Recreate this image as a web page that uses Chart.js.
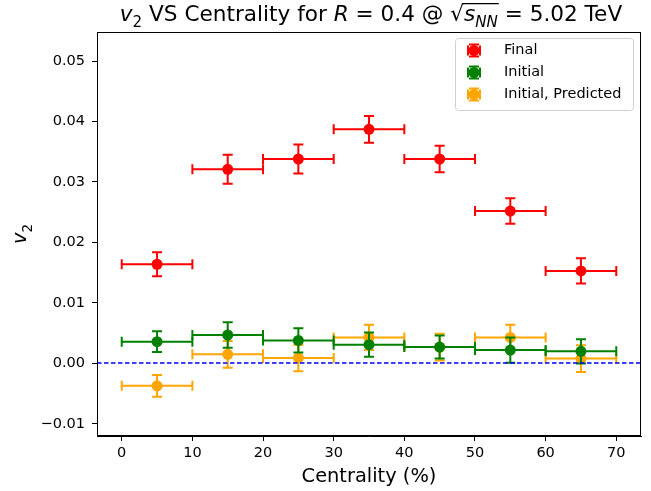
<!DOCTYPE html>
<html>
<head>
<meta charset="utf-8">
<script src="https://cdn.jsdelivr.net/npm/chart.js@4"></script>
<style>
  html, body { margin: 0; padding: 0; background: #fff; }
  canvas { display: block; }
</style>
</head>
<body>
<canvas id="v2chart" width="651" height="491"></canvas>
<script>
// centrality bins (bin centre, half width in %)
const centrality = [5, 15, 25, 35, 45, 55, 65];
const binHalfWidth = [5, 5, 5, 5, 5, 5, 5];

const finalV2 = [0.0164, 0.0321, 0.0338, 0.0387, 0.0338, 0.0252, 0.0153];
const finalErr = [0.0020, 0.0024, 0.0024, 0.0022, 0.0022, 0.0021, 0.0021];
const initialV2 = [0.0036, 0.0047, 0.0038, 0.0031, 0.0027, 0.0022, 0.0020];
const initialErr = [0.0017, 0.0021, 0.0020, 0.0020, 0.0019, 0.0021, 0.0020];
const predictedV2 = [-0.0037, 0.0015, 0.0009, 0.0043, 0.0027, 0.0043, 0.0008];
const predictedErr = [0.0018, 0.0022, 0.0022, 0.0021, 0.0022, 0.0021, 0.0022];

const seriesNames = ['Final', 'Initial', 'Initial, Predicted'];
const seriesColors = ['#ff0000', '#008000', '#ffa500'];

const xTicks = [0, 10, 20, 30, 40, 50, 60, 70];
const yTicks = [-0.01, 0, 0.01, 0.02, 0.03, 0.04, 0.05];

const FONT = 'DejaVu Sans';

function makeSet(i, vals, errs){
     return {
          label: seriesNames[i],
          data: centrality.map((c, k) => ({x: c, y: vals[k], xe: binHalfWidth[k], ye: errs[k]})),
          backgroundColor: seriesColors[i],
          borderColor: seriesColors[i],
          borderWidth: 0,
          pointRadius: 5.5,
          pointHoverRadius: 5.5,
          showLine: false
     };
}

// error bars, drawn under each dataset's markers
const errorBarPlugin = {
     id: 'errorBars',
     beforeDatasetDraw(chart, args){
          const ds = chart.data.datasets[args.index];
          const xs = chart.scales.x, ys = chart.scales.y;
          const ctx = chart.ctx;
          const cap = 5;
          ctx.save();
          ctx.strokeStyle = ds.borderColor;
          ctx.lineWidth = 2;
          ds.data.forEach(p => {
               const px = xs.getPixelForValue(p.x);
               const py = ys.getPixelForValue(p.y);
               const x0 = xs.getPixelForValue(p.x - p.xe), x1 = xs.getPixelForValue(p.x + p.xe);
               const y0 = ys.getPixelForValue(p.y - p.ye), y1 = ys.getPixelForValue(p.y + p.ye);
               ctx.beginPath();
               ctx.moveTo(x0, py); ctx.lineTo(x1, py);
               ctx.moveTo(x0, py - cap); ctx.lineTo(x0, py + cap);
               ctx.moveTo(x1, py - cap); ctx.lineTo(x1, py + cap);
               ctx.moveTo(px, y0); ctx.lineTo(px, y1);
               ctx.moveTo(px - cap, y0); ctx.lineTo(px + cap, y0);
               ctx.moveTo(px - cap, y1); ctx.lineTo(px + cap, y1);
               ctx.stroke();
          });
          ctx.restore();
     }
};

function drawRich(ctx, parts, cx, baseY, size){
     // measure
     let total = 0;
     parts.forEach(p => {
          const fs = p.sub ? size * 0.7 : size;
          ctx.font = (p.it ? 'italic ' : '') + fs + 'px "' + FONT + '"';
          p.w = p.rad ? ctx.measureText('\u221A').width : ctx.measureText(p.t).width;
          total += p.w;
     });
     let x = cx - total / 2;
     let radTop = null, radStart = 0;
     parts.forEach(p => {
          const fs = p.sub ? size * 0.7 : size;
          ctx.font = (p.it ? 'italic ' : '') + fs + 'px "' + FONT + '"';
          const y = baseY + (p.sub ? size * 0.3 : 0);
          if(p.rad){
               const m = ctx.measureText('\u221A');
               ctx.fillText('\u221A', x, baseY);
               radTop = baseY - m.actualBoundingBoxAscent + 0.6;
               radStart = x + p.w * 0.85;
          } else {
               ctx.fillText(p.t, x, y);
          }
          x += p.w;
          if(p.endRad && radTop !== null){
               ctx.save();
               ctx.lineWidth = 1.2;
               ctx.beginPath();
               ctx.moveTo(radStart, radTop);
               ctx.lineTo(x + 1, radTop);
               ctx.stroke();
               ctx.restore();
               radTop = null;
          }
     });
}

const decorPlugin = {
     id: 'decor',
     afterDatasetsDraw(chart){
          const ctx = chart.ctx;
          const a = chart.chartArea;
          const ys = chart.scales.y;
          // dashed zero line
          const y0 = Math.round(ys.getPixelForValue(0));
          ctx.save();
          ctx.strokeStyle = '#0000ff';
          ctx.lineWidth = 1.4;
          ctx.setLineDash([4.5, 2.5]);
          ctx.beginPath();
          ctx.moveTo(a.left, y0); ctx.lineTo(a.right, y0);
          ctx.stroke();
          ctx.restore();
     },
     afterDraw(chart){
          const ctx = chart.ctx;
          const a = chart.chartArea;
          ctx.save();
          // frame
          ctx.strokeStyle = '#000';
          ctx.lineWidth = 1;
          ctx.strokeRect(a.left + 0.5, a.top + 0.5, a.right - a.left - 1, a.bottom - a.top - 1);

          // legend
          const lx = 455, ly = 38, lw = 178, lh = 72;
          ctx.fillStyle = 'rgba(255,255,255,0.8)';
          ctx.strokeStyle = '#d0d0d0';
          ctx.beginPath();
          ctx.roundRect(lx + 0.5, ly + 0.5, lw, lh, 3);
          ctx.fill();
          ctx.stroke();
          chart.data.datasets.forEach((ds, i) => {
               const cy = 50.5 + i * 22;
               const cx = 474;
               ctx.strokeStyle = ds.borderColor;
               ctx.fillStyle = ds.borderColor;
               ctx.lineWidth = 2;
               ctx.beginPath();
               ctx.moveTo(cx - 6, cy); ctx.lineTo(cx + 6, cy);
               ctx.moveTo(cx - 6, cy - 5); ctx.lineTo(cx - 6, cy + 5);
               ctx.moveTo(cx + 6, cy - 5); ctx.lineTo(cx + 6, cy + 5);
               ctx.moveTo(cx, cy - 6); ctx.lineTo(cx, cy + 6);
               ctx.moveTo(cx - 5, cy - 6); ctx.lineTo(cx + 5, cy - 6);
               ctx.moveTo(cx - 5, cy + 6); ctx.lineTo(cx + 5, cy + 6);
               ctx.stroke();
               ctx.beginPath();
               ctx.arc(cx, cy, 5.5, 0, Math.PI * 2);
               ctx.fill();
               ctx.fillStyle = '#000';
               ctx.font = '14.5px "' + FONT + '"';
               ctx.textBaseline = 'middle';
               ctx.textAlign = 'left';
               ctx.fillText(ds.label, 504, cy);
          });

          // title
          ctx.fillStyle = '#000';
          ctx.strokeStyle = '#000';
          ctx.textBaseline = 'alphabetic';
          ctx.textAlign = 'left';
          const midX = (a.left + a.right) / 2;
          drawRich(ctx, [
               {t: 'v', it: true}, {t: '2', sub: true},
               {t: ' VS Centrality for '},
               {t: 'R', it: true}, {t: ' = 0.4 @ '},
               {rad: true}, {t: 's', it: true}, {t: 'NN', it: true, sub: true, endRad: true},
               {t: ' = 5.02 TeV'}
          ], midX + 2, 21, 21.6);

          // x axis title
          ctx.font = '19.4px "' + FONT + '"';
          ctx.textAlign = 'center';
          ctx.fillText('Centrality (%)', midX, 482);

          // y axis title
          ctx.translate(26, (a.top + a.bottom) / 2);
          ctx.rotate(-Math.PI / 2);
          ctx.textAlign = 'left';
          drawRich(ctx, [{t: 'v', it: true}, {t: '2', sub: true}], 0, 0, 19.4);
          ctx.restore();
     }
};

Chart.defaults.font.family = FONT;
Chart.defaults.font.size = 14;
Chart.defaults.color = '#000';

const ctx = document.getElementById('v2chart').getContext('2d');
new Chart(ctx, {
     type: 'scatter',
     data: {
          datasets: [
               makeSet(0, finalV2, finalErr),
               makeSet(1, initialV2, initialErr),
               makeSet(2, predictedV2, predictedErr)
          ]
     },
     options: {
          responsive: false,
          animation: false,
          events: [],
          layout: { padding: { top: 32, right: 10, left: 0, bottom: 0 } },
          plugins: {
               legend: { display: false },
               title: { display: false },
               tooltip: { enabled: false }
          },
          scales: {
               x: {
                    type: 'linear',
                    min: -3.5,
                    max: 73.5,
                    afterBuildTicks: s => { s.ticks = xTicks.map(v => ({value: v})); },
                    afterFit: s => { s.height = 55; },
                    grid: { display: true, drawOnChartArea: false, drawTicks: true, tickLength: 5, tickColor: '#000', tickWidth: 1 },
                    border: { display: true, color: '#000', width: 1 },
                    ticks: { padding: 4, maxRotation: 0, callback: v => String(v), font: { size: 14.5 } }
               },
               y: {
                    type: 'linear',
                    min: -0.012,
                    max: 0.0548,
                    afterBuildTicks: s => { s.ticks = yTicks.map(v => ({value: v})); },
                    afterFit: s => { s.width = 97; },
                    grid: { display: true, drawOnChartArea: false, drawTicks: true, tickLength: 5, tickColor: '#000', tickWidth: 1 },
                    border: { display: true, color: '#000', width: 1 },
                    ticks: { padding: 7, callback: v => v.toFixed(2).replace('-', '\u2212'), font: { size: 14.5 } }
               }
          }
     },
     plugins: [errorBarPlugin, decorPlugin]
});
</script>
</body>
</html>
